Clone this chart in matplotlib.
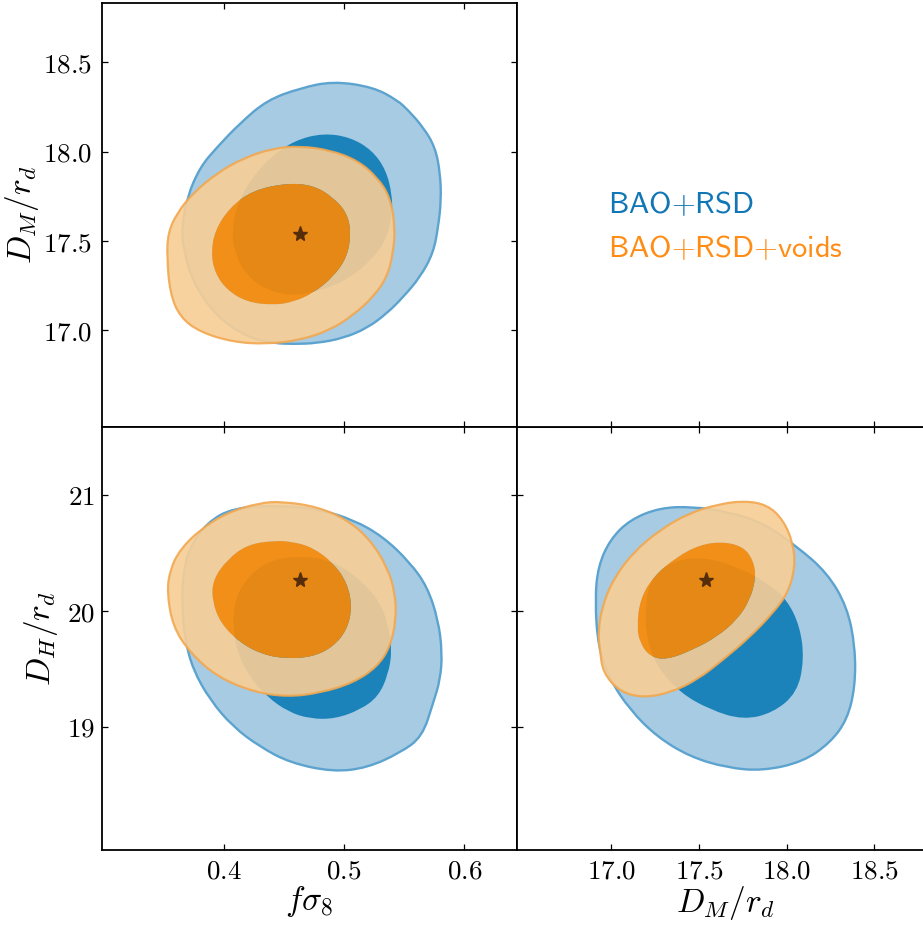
import numpy as np
import matplotlib
matplotlib.use("Agg")
import matplotlib.pyplot as plt
from matplotlib.path import Path
from matplotlib.patches import PathPatch
from matplotlib.ticker import FuncFormatter

plt.rcParams['mathtext.fontset'] = 'cm'

# ---------------- data ----------------
best_fit = {"fs8": 0.463, "DM": 17.54, "DH": 20.27}

# panel fs8 vs DM
fsDM_blue_out_x = [0.4908, 0.5242, 0.5442, 0.5533, 0.5658, 0.5758, 0.5800, 0.5808, 0.5783, 0.5742, 0.5633, 0.5492, 0.5358, 0.5192, 0.4992, 0.4775, 0.4575, 0.4408, 0.4192, 0.3942, 0.3742, 0.3658, 0.3650, 0.3692, 0.3800, 0.3942, 0.4133, 0.4358, 0.4633]
fsDM_blue_out_y = [18.395, 18.362, 18.289, 18.233, 18.138, 18.026, 17.881, 17.729, 17.578, 17.433, 17.299, 17.187, 17.097, 17.013, 16.957, 16.929, 16.924, 16.929, 16.963, 17.075, 17.265, 17.466, 17.578, 17.746, 17.914, 18.026, 18.160, 18.289, 18.356]
fsDM_blue_in_x = [0.4825, 0.5050, 0.5233, 0.5350, 0.5400, 0.5400, 0.5350, 0.5242, 0.5050, 0.4800, 0.4550, 0.4317, 0.4167, 0.4083, 0.4067, 0.4108, 0.4217, 0.4383, 0.4592]
fsDM_blue_in_y = [18.104, 18.082, 18.009, 17.897, 17.757, 17.645, 17.506, 17.405, 17.293, 17.220, 17.192, 17.237, 17.327, 17.450, 17.573, 17.701, 17.841, 17.970, 18.065]
fsDM_orange_out_x = [0.3525, 0.3533, 0.3608, 0.3742, 0.3942, 0.4158, 0.4408, 0.4633, 0.4883, 0.5108, 0.5275, 0.5383, 0.5425, 0.5408, 0.5358, 0.5242, 0.5075, 0.4883, 0.4633, 0.4358, 0.4075, 0.3800, 0.3633, 0.3550]
fsDM_orange_out_y = [17.410, 17.545, 17.657, 17.769, 17.881, 17.964, 18.020, 18.032, 18.009, 17.953, 17.858, 17.746, 17.578, 17.433, 17.299, 17.187, 17.086, 17.002, 16.946, 16.924, 16.935, 16.991, 17.075, 17.209]
fsDM_orange_in_x = [0.3892, 0.3925, 0.4050, 0.4242, 0.4525, 0.4742, 0.4908, 0.5025, 0.5058, 0.5025, 0.4908, 0.4742, 0.4575, 0.4408, 0.4192, 0.4025, 0.3925]
fsDM_orange_in_y = [17.433, 17.562, 17.690, 17.785, 17.825, 17.813, 17.746, 17.657, 17.545, 17.410, 17.299, 17.209, 17.159, 17.142, 17.159, 17.226, 17.321]

# panel fs8 vs DH
fsDH_blue_out_x = [0.4492, 0.4075, 0.3858, 0.3717, 0.3658, 0.3650, 0.3675, 0.3742, 0.3883, 0.4075, 0.4300, 0.4550, 0.4908, 0.5192, 0.5467, 0.5650, 0.5742, 0.5800, 0.5817, 0.5783, 0.5692, 0.5550, 0.5325, 0.5075, 0.4800]
fsDH_blue_out_y = [20.913, 20.893, 20.763, 20.556, 20.331, 20.037, 19.752, 19.493, 19.233, 19.000, 18.827, 18.689, 18.611, 18.646, 18.776, 18.914, 19.208, 19.407, 19.640, 19.925, 20.210, 20.417, 20.642, 20.789, 20.876]
fsDH_blue_in_x = [0.4575, 0.4800, 0.5008, 0.5192, 0.5300, 0.5367, 0.5400, 0.5367, 0.5283, 0.5133, 0.4925, 0.4717, 0.4533, 0.4358, 0.4217, 0.4117, 0.4075, 0.4083, 0.4150, 0.4283, 0.4425]
fsDH_blue_in_y = [20.469, 20.461, 20.374, 20.210, 20.072, 19.882, 19.666, 19.450, 19.260, 19.147, 19.069, 19.069, 19.130, 19.260, 19.424, 19.623, 19.839, 20.054, 20.227, 20.374, 20.443]
fsDH_orange_out_x = [0.3525, 0.3550, 0.3633, 0.3800, 0.4025, 0.4300, 0.4492, 0.4775, 0.5025, 0.5217, 0.5358, 0.5425, 0.5433, 0.5383, 0.5275, 0.5075, 0.4800, 0.4525, 0.4242, 0.3942, 0.3717, 0.3575]
fsDH_orange_out_y = [20.158, 20.357, 20.530, 20.703, 20.850, 20.936, 20.945, 20.901, 20.789, 20.616, 20.382, 20.158, 19.924, 19.691, 19.518, 19.380, 19.293, 19.259, 19.302, 19.432, 19.640, 19.864]
fsDH_orange_in_x = [0.4408, 0.4192, 0.4025, 0.3908, 0.3900, 0.3967, 0.4133, 0.4325, 0.4525, 0.4742, 0.4908, 0.5025, 0.5067, 0.5025, 0.4908, 0.4742, 0.4575]
fsDH_orange_in_y = [20.608, 20.573, 20.443, 20.271, 20.098, 19.899, 19.726, 19.622, 19.588, 19.605, 19.691, 19.838, 20.037, 20.245, 20.417, 20.547, 20.599]

# panel DM vs DH
DMDH_blue_out_x = [16.907, 16.924, 16.992, 17.106, 17.278, 17.466, 17.660, 17.865, 18.059, 18.230, 18.344, 18.390, 18.390, 18.344, 18.247, 18.093, 17.865, 17.660, 17.449, 17.260, 17.106, 16.992, 16.924]
DMDH_blue_out_y = [20.098, 20.383, 20.616, 20.789, 20.893, 20.901, 20.858, 20.763, 20.556, 20.331, 20.037, 19.691, 19.346, 19.060, 18.862, 18.698, 18.620, 18.646, 18.741, 18.914, 19.147, 19.407, 19.691]
DMDH_blue_in_x = [17.523, 17.717, 17.888, 18.002, 18.076, 18.099, 18.059, 17.922, 17.751, 17.563, 17.392, 17.260, 17.203, 17.192, 17.220, 17.335]
DMDH_blue_in_y = [20.469, 20.383, 20.244, 20.098, 19.864, 19.579, 19.294, 19.121, 19.060, 19.147, 19.294, 19.518, 19.752, 20.011, 20.271, 20.427]
DMDH_orange_out_x = [16.935, 16.924, 16.947, 17.009, 17.123, 17.278, 17.449, 17.603, 17.751, 17.888, 17.979, 18.036, 18.048, 18.008, 17.922, 17.791, 17.637, 17.489, 17.335, 17.181, 17.049, 16.952]
DMDH_orange_out_y = [19.665, 19.812, 20.037, 20.270, 20.504, 20.703, 20.850, 20.919, 20.953, 20.919, 20.789, 20.590, 20.383, 20.158, 19.985, 19.778, 19.579, 19.406, 19.294, 19.251, 19.302, 19.467]
DMDH_orange_in_x = [17.146, 17.163, 17.238, 17.374, 17.506, 17.637, 17.751, 17.808, 17.825, 17.791, 17.717, 17.603, 17.466, 17.317, 17.220, 17.163]
DMDH_orange_in_y = [19.863, 20.097, 20.296, 20.469, 20.573, 20.599, 20.556, 20.443, 20.296, 20.097, 19.925, 19.778, 19.666, 19.579, 19.605, 19.726]

fs8_range = (0.298, 0.644)
DM_range = (16.462, 18.831)
DH_range = (17.937, 21.593)
fs8_ticks = [0.4, 0.5, 0.6]
DM_ticks = [17.0, 17.5, 18.0, 18.5]
DH_ticks = [19, 20, 21]
labels = {"fs8": r"$f\sigma_8$", "DM": r"$D_M/r_d$", "DH": r"$D_H/r_d$"}
legend_names = [r"$\mathsf{BAO{+}RSD}$", r"$\mathsf{BAO{+}RSD{+}voids}$"]

# ---------------- styles ----------------
C_BLUE_OUT = (166/255, 203/255, 226/255)
C_BLUE_IN = (27/255, 131/255, 186/255)
C_BLUE_EDGE = (92/255, 163/255, 207/255)
C_OR_OUT = (247/255, 206/255, 150/255)
C_OR_IN = (250/255, 137/255, 4/255)
C_OR_EDGE = (242/255, 168/255, 80/255)
C_STAR = (85/255, 45/255, 10/255)


def smooth_path(xs, ys, reverse=False):
    pts = np.column_stack([xs, ys]).astype(float)
    if reverse:
        pts = pts[::-1]
    n = len(pts)
    mids = (pts + np.roll(pts, -1, axis=0)) / 2.0
    verts = [mids[-1]]
    codes = [Path.MOVETO]
    for i in range(n):
        verts += [pts[i], mids[i]]
        codes += [Path.CURVE3, Path.CURVE3]
    verts.append(mids[-1])
    codes.append(Path.CLOSEPOLY)
    return Path(np.array(verts), codes)


def signed_area(xs, ys):
    x = np.asarray(xs); y = np.asarray(ys)
    return 0.5 * np.sum(x * np.roll(y, -1) - np.roll(x, -1) * y)


def ring_path(ox, oy, ix, iy):
    outer = smooth_path(ox, oy)
    same = np.sign(signed_area(ox, oy)) == np.sign(signed_area(ix, iy))
    inner = smooth_path(ix, iy, reverse=same)
    return Path.make_compound_path(outer, inner)


def draw_panel(ax, bo, bi, oo, oi, star):
    ax.add_patch(PathPatch(smooth_path(*bo), facecolor=C_BLUE_OUT, edgecolor='none', zorder=1))
    ax.add_patch(PathPatch(smooth_path(*bi), facecolor=C_BLUE_IN, edgecolor='none', zorder=2))
    ax.add_patch(PathPatch(smooth_path(*bo), facecolor='none', edgecolor=C_BLUE_EDGE, lw=1.7, zorder=3))
    ax.add_patch(PathPatch(ring_path(oo[0], oo[1], oi[0], oi[1]), facecolor=C_OR_OUT,
                           edgecolor='none', alpha=0.91, zorder=4))
    ax.add_patch(PathPatch(smooth_path(*oi), facecolor=C_OR_IN, edgecolor='none', alpha=0.91, zorder=5))
    ax.add_patch(PathPatch(smooth_path(*oo), facecolor='none', edgecolor=C_OR_EDGE, lw=1.6, alpha=0.9, zorder=6))
    ax.plot([star[0]], [star[1]], marker='*', color=C_STAR, markersize=11, linestyle='none', zorder=7)


fmt1 = FuncFormatter(lambda v, p: r"$%.1f$" % v)
fmt0 = FuncFormatter(lambda v, p: r"$%d$" % round(v))

fig = plt.figure(figsize=(9.23, 9.25), dpi=100)
W, H = 0.4502, 0.4576
L1, L2 = 0.11, 0.5601
B1, B2 = 0.5388, 0.0812
ax_tl = fig.add_axes([L1, B1, W, H])
ax_bl = fig.add_axes([L1, B2, W, H])
ax_br = fig.add_axes([L2, B2, W, H])
ax_tr = fig.add_axes([L2, B1, W, H])

for ax in (ax_tl, ax_bl, ax_br, ax_tr):
    for s in ax.spines.values():
        s.set_linewidth(1.3)
    ax.tick_params(direction='in', length=4.5, width=0.9, labelsize=19.5, pad=6,
                   top=True, right=True, bottom=True, left=True)

draw_panel(ax_tl, (fsDM_blue_out_x, fsDM_blue_out_y), (fsDM_blue_in_x, fsDM_blue_in_y),
           (fsDM_orange_out_x, fsDM_orange_out_y), (fsDM_orange_in_x, fsDM_orange_in_y),
           (best_fit["fs8"], best_fit["DM"]))
draw_panel(ax_bl, (fsDH_blue_out_x, fsDH_blue_out_y), (fsDH_blue_in_x, fsDH_blue_in_y),
           (fsDH_orange_out_x, fsDH_orange_out_y), (fsDH_orange_in_x, fsDH_orange_in_y),
           (best_fit["fs8"], best_fit["DH"]))
draw_panel(ax_br, (DMDH_blue_out_x, DMDH_blue_out_y), (DMDH_blue_in_x, DMDH_blue_in_y),
           (DMDH_orange_out_x, DMDH_orange_out_y), (DMDH_orange_in_x, DMDH_orange_in_y),
           (best_fit["DM"], best_fit["DH"]))

# top-left
ax_tl.set_xlim(*fs8_range); ax_tl.set_ylim(*DM_range)
ax_tl.set_xticks(fs8_ticks); ax_tl.set_yticks(DM_ticks)
ax_tl.yaxis.set_major_formatter(fmt1)
ax_tl.tick_params(labelbottom=False)
ax_tl.tick_params(axis='y', pad=7)
ax_tl.set_ylabel(labels["DM"], fontsize=24, labelpad=1)

# bottom-left
ax_bl.set_xlim(*fs8_range); ax_bl.set_ylim(*DH_range)
ax_bl.set_xticks(fs8_ticks); ax_bl.set_yticks(DH_ticks)
ax_bl.xaxis.set_major_formatter(fmt1); ax_bl.yaxis.set_major_formatter(fmt0)
ax_bl.tick_params(axis='y', pad=5)
ax_bl.set_xlabel(labels["fs8"], fontsize=24, labelpad=0)
ax_bl.set_ylabel(labels["DH"], fontsize=24, labelpad=5)

# bottom-right
ax_br.set_xlim(*DM_range); ax_br.set_ylim(*DH_range)
ax_br.set_xticks(DM_ticks); ax_br.set_yticks(DH_ticks)
ax_br.xaxis.set_major_formatter(fmt1)
ax_br.tick_params(labelleft=False)
ax_br.set_xlabel(labels["DM"], fontsize=24, labelpad=0)

# top-right (legend area)
ax_tr.set_xlim(*DM_range); ax_tr.set_ylim(*DM_range)
ax_tr.set_xticks(DM_ticks); ax_tr.set_yticks([])
ax_tr.tick_params(labelbottom=False, top=False, right=False, left=False)
ax_tr.spines['top'].set_visible(False); ax_tr.spines['right'].set_visible(False)

fig.text(0.6584, 0.7697, legend_names[0], color=(16/255, 118/255, 182/255),
         fontsize=22, va='baseline', ha='left')
fig.text(0.6584, 0.7222, legend_names[1], color=(255/255, 140/255, 20/255),
         fontsize=22, va='baseline', ha='left')

fig.savefig("out.png", dpi=100)
